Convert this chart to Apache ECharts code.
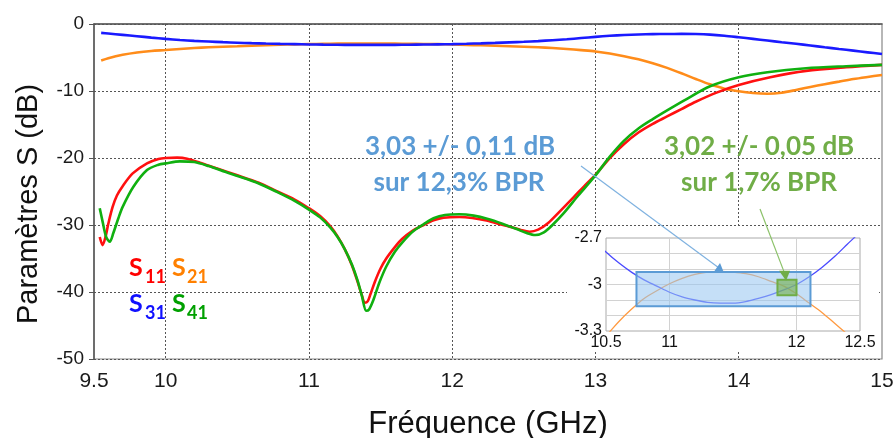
<!DOCTYPE html>
<html>
<head>
<meta charset="utf-8">
<script src="https://cdn.jsdelivr.net/npm/echarts@6/dist/echarts.min.js"></script>
<style>
html, body { margin: 0; background: #fff; }
#mainChart { width: 895px; height: 438px; }
</style>
</head>
<body>
<div id="mainChart"></div>
<script>
// Paramètres S d'un coupleur, 9.5 - 15 GHz

// S11 / S41 (réflexion / isolation)
var freqS11 = [9.54, 9.56, 9.58, 9.60, 9.63, 9.66, 9.70, 9.77, 9.87, 9.95, 10.0, 10.08, 10.15, 10.24, 10.35, 10.49,
    10.65, 10.78, 10.9, 11.0, 11.08, 11.15, 11.2, 11.25, 11.3, 11.34, 11.37, 11.39, 11.41, 11.43, 11.46, 11.5,
    11.54, 11.6, 11.65, 11.72, 11.8, 11.87, 11.94, 12.05, 12.14, 12.23, 12.32, 12.41, 12.48, 12.54, 12.6, 12.67,
    12.75, 12.85, 12.93, 13.0, 13.1, 13.2, 13.3, 13.4, 13.5, 13.6, 13.7, 13.85, 14.0, 14.22, 14.47, 14.75, 15.0];
var valS11 = [-31.8, -33.0, -31.8, -29.8, -27.3, -25.6, -24.2, -22.3, -20.8, -20.15, -20.0, -19.95, -20.1, -20.7, -21.5, -22.5,
    -23.7, -25.0, -26.2, -27.5, -28.7, -30.2, -31.7, -33.6, -36.0, -38.5, -40.5, -41.6, -41.4, -40.3, -38.5, -36.5,
    -35.0, -33.3, -32.1, -30.9, -30.0, -29.3, -28.9, -28.8, -28.95, -29.3, -29.8, -30.3, -30.75, -31.0, -30.7, -29.7,
    -28.0, -25.8, -24.0, -22.5, -20.0, -17.9, -16.2, -14.9, -13.8, -12.7, -11.6, -10.2, -9.1, -7.95, -7.0, -6.45, -6.1];

var freqS41 = [9.54, 9.56, 9.585, 9.61, 9.635, 9.67, 9.70, 9.775, 9.87, 9.95, 10.0, 10.1, 10.2, 10.3, 10.42, 10.49,
    10.65, 10.78, 10.9, 11.0, 11.08, 11.15, 11.2, 11.25, 11.3, 11.34, 11.37, 11.40, 11.42, 11.45, 11.49, 11.54,
    11.6, 11.66, 11.73, 11.8, 11.87, 11.95, 12.05, 12.15, 12.25, 12.35, 12.45, 12.52, 12.58, 12.64, 12.7, 12.78,
    12.88, 13.0, 13.1, 13.2, 13.3, 13.4, 13.5, 13.62, 13.8, 14.0, 14.2, 14.47, 14.75, 15.0];
var valS41 = [-27.5, -29.5, -31.8, -32.5, -31.2, -29.0, -27.3, -24.3, -21.8, -21.0, -20.8, -20.5, -20.6, -21.2, -22.1, -22.6,
    -23.8, -25.1, -26.4, -27.7, -28.9, -30.4, -31.8, -33.6, -35.9, -38.3, -40.6, -42.8, -42.6, -41.2, -38.7, -36.2,
    -34.0, -32.4, -30.9, -29.9, -29.0, -28.5, -28.4, -28.6, -29.1, -29.8, -30.6, -31.2, -31.5, -31.1, -30.0, -28.2,
    -25.6, -22.6, -19.8, -17.4, -15.6, -14.2, -12.9, -11.4, -9.3, -7.95, -7.2, -6.6, -6.3, -6.1];

// S21 / S31 (transmission / couplage)
var freqTx = [9.55, 9.6, 9.7, 9.8, 9.9, 10.0, 10.1, 10.2, 10.3, 10.4, 10.5, 10.6, 10.7, 10.8, 10.9, 11.0, 11.1, 11.2,
    11.3, 11.4, 11.5, 11.6, 11.7, 11.8, 11.9, 12.0, 12.1, 12.2, 12.3, 12.4, 12.5, 12.6, 12.7, 12.8, 12.9, 13.0,
    13.1, 13.2, 13.3, 13.4, 13.5, 13.6, 13.7, 13.8, 13.9, 14.0, 14.1, 14.2, 14.3, 14.4, 14.5, 14.6, 14.7, 14.8,
    14.9, 15.0];
var valS21 = [-5.45, -5.1, -4.6, -4.25, -4.02, -3.88, -3.72, -3.58, -3.47, -3.39, -3.33, -3.24, -3.16, -3.09, -3.04, -2.995, -2.96, -2.935,
    -2.92, -2.915, -2.92, -2.93, -2.95, -2.98, -3.01, -3.06, -3.12, -3.18, -3.25, -3.32, -3.39, -3.48, -3.58, -3.72, -3.9, -4.1,
    -4.4, -4.8, -5.27, -5.85, -6.55, -7.35, -8.2, -9.0, -9.65, -10.05, -10.3, -10.4, -10.25, -9.85, -9.4, -8.98, -8.6, -8.22,
    -7.9, -7.6];
var valS31 = [-1.32, -1.42, -1.62, -1.82, -2.03, -2.22, -2.38, -2.52, -2.62, -2.71, -2.79, -2.86, -2.92, -2.97, -3.01, -3.05, -3.08, -3.10,
    -3.115, -3.12, -3.12, -3.11, -3.09, -3.065, -3.035, -3.0, -2.95, -2.89, -2.82, -2.74, -2.66, -2.55, -2.42, -2.28, -2.1, -1.92,
    -1.76, -1.64, -1.56, -1.51, -1.49, -1.48, -1.5, -1.58, -1.75, -1.98, -2.22, -2.47, -2.72, -2.95, -3.2, -3.47, -3.73, -3.98,
    -4.23, -4.48];

// graduations
var xLabels = [9.5, 10, 11, 12, 13, 14, 15];
var xGrid = [10, 11, 12, 13, 14];
var zoomXLabels = [10.5, 11, 12, 12.5];
var zoomXGrid = [11, 12];
var zoomYLabels = [-3.3, -3, -2.7];
var zoomYGrid = [-3.2, -3.1, -3, -2.9, -2.8];

// bandes d'équilibre (GHz, dB)
var bandWideX = [10.74, 12.11];
var bandWideY = [-3.14, -2.92];
var bandNarrowX = [11.85, 12.0];
var bandNarrowY = [-3.07, -2.97];
var arrowWideTip = [11.39, -2.92];
var arrowNarrowTip = [11.91, -2.97];

function pairs(xs, ys) {
    return xs.map(function (x, i) { return [x, ys[i]]; });
}

var myChart = echarts.init(document.getElementById('mainChart'), null, { renderer: 'canvas' });

var sansFont = 'Liberation Sans, Arial, sans-serif';
var boldFont = 'Lato, Open Sans, sans-serif';
var gridDot = { color: '#555', width: 1, type: [2, 2] };

function mainLine(name, data, color) {
    return {
        name: name, type: 'line', xAxisIndex: 0, yAxisIndex: 0,
        data: data, showSymbol: false, smooth: 0.3, z: 2,
        lineStyle: { color: color, width: 2.6 }
    };
}
function zoomLine(name, data, color) {
    return {
        name: name, type: 'line', xAxisIndex: 1, yAxisIndex: 1,
        data: data, showSymbol: false, smooth: 0.3, z: 6,
        lineStyle: { color: color, width: 1.3 }
    };
}

function txt(x, y, text, color, size, align) {
    return {
        type: 'text', z: 20, silent: true,
        style: {
            x: x, y: y, text: text, fill: color,
            font: 'bold ' + size + 'px ' + boldFont,
            textAlign: align || 'left', textVerticalAlign: 'middle'
        }
    };
}

myChart.setOption({
    animation: false,
    backgroundColor: '#fff',
    grid: [{
        left: 94, top: 24, right: 13, bottom: 79, outerBoundsMode: 'none', containLabel: false,
        show: true, borderColor: '#888', borderWidth: 1.2
    }, {
        left: 606, top: 238, width: 254, height: 93, outerBoundsMode: 'none', containLabel: false,
        show: true, backgroundColor: '#fff', borderColor: '#aaa', borderWidth: 1, z: 4
    }],
    xAxis: [{
        type: 'value', gridIndex: 0, min: 9.5, max: 15,
        name: 'Fréquence (GHz)', nameLocation: 'middle', nameGap: 50,
        nameTextStyle: { fontFamily: sansFont, fontSize: 31, color: '#111' },
        axisLine: { lineStyle: { color: '#555', width: 1.5 } },
        axisTick: { show: false, customValues: xGrid },
        axisLabel: { customValues: xLabels, fontFamily: sansFont, fontSize: 21, color: '#1a1a1a', margin: 12 },
        splitLine: { show: true, lineStyle: gridDot }
    }, {
        type: 'value', gridIndex: 1, min: 10.5, max: 12.5, z: 5,
        axisLine: { show: false },
        axisTick: { show: false, customValues: zoomXGrid },
        axisLabel: { customValues: zoomXLabels, fontFamily: sansFont, fontSize: 16, color: '#111', margin: 4 },
        splitLine: { show: true, lineStyle: { color: '#d2d2d2', width: 1 } }
    }],
    yAxis: [{
        type: 'value', gridIndex: 0, min: -50, max: 0, interval: 10,
        axisLine: { show: true, lineStyle: { color: '#555', width: 1.5 } },
        axisTick: { show: true, length: 5, lineStyle: { color: '#555' } },
        axisLabel: { fontFamily: sansFont, fontSize: 19, color: '#1a1a1a', margin: 10 },
        splitLine: { show: true, lineStyle: gridDot }
    }, {
        type: 'value', gridIndex: 1, min: -3.3, max: -2.7, z: 5,
        axisLine: { show: false },
        axisTick: { show: false, customValues: zoomYGrid },
        axisLabel: {
            customValues: zoomYLabels, fontFamily: sansFont, fontSize: 16, color: '#111', margin: 4,
            formatter: function (v) { return String(Math.round(v * 10) / 10); }
        },
        splitLine: { show: true, lineStyle: { color: '#d2d2d2', width: 1 } }
    }],
    series: [
        mainLine('S21', pairs(freqTx, valS21), '#ff8c1a'),
        mainLine('S31', pairs(freqTx, valS31), '#1a1aff'),
        mainLine('S11', pairs(freqS11, valS11), '#ff1010'),
        mainLine('S41', pairs(freqS41, valS41), '#10b010'),
        zoomLine('S21 zoom', pairs(freqTx, valS21), '#ff9a40'),
        zoomLine('S31 zoom', pairs(freqTx, valS31), '#4a4aff'),
        {
            name: 'bandes', type: 'line', xAxisIndex: 1, yAxisIndex: 1, z: 7, silent: true,
            data: pairs(bandWideX, bandWideY), showSymbol: false,
            lineStyle: { opacity: 0 },
            markArea: {
                silent: true, z: 8, label: { show: false },
                data: [
                    [{ xAxis: bandWideX[0], yAxis: bandWideY[1], itemStyle: { color: 'rgba(150,196,240,0.55)', borderColor: '#5b9bd5', borderWidth: 2 } },
                     { xAxis: bandWideX[1], yAxis: bandWideY[0] }],
                    [{ xAxis: bandNarrowX[0], yAxis: bandNarrowY[1], itemStyle: { color: 'rgba(112,173,71,0.6)', borderColor: '#70ad47', borderWidth: 2 } },
                     { xAxis: bandNarrowX[1], yAxis: bandNarrowY[0] }]
                ]
            }
        }
    ]
});

// annotations
var tipA = myChart.convertToPixel({ gridIndex: 1 }, arrowWideTip);
var tipB = myChart.convertToPixel({ gridIndex: 1 }, arrowNarrowTip);

myChart.setOption({
    graphic: [
        { type: 'rect', z: 3, silent: true, shape: { x: 567, y: 227, width: 312, height: 125 }, style: { fill: '#fff' } },
        // titre de l'axe Y
        {
            type: 'text', z: 20, silent: true, x: 29, y: 204, rotation: Math.PI / 2,
            style: { text: 'Paramètres S (dB)', fill: '#111', font: '29px ' + sansFont, textAlign: 'center', textVerticalAlign: 'middle' }
        },
        // légende S
        txt(129, 268, 'S', '#ff0000', 25), txt(145, 277, '11', '#ff0000', 18),
        txt(172, 268, 'S', '#ff8000', 25), txt(187, 277, '21', '#ff8000', 18),
        txt(129, 304, 'S', '#1010ff', 25), txt(145, 313, '31', '#1010ff', 18),
        txt(172, 304, 'S', '#00a000', 25), txt(187, 313, '41', '#00a000', 18),
        // textes
        txt(460, 147, '3,03 +/- 0,11 dB', '#5b9bd5', 26, 'center'), txt(459, 183, 'sur 12,3% BPR', '#5b9bd5', 26, 'center'),
        txt(759, 147, '3,02 +/- 0,05 dB', '#70ad47', 26, 'center'), txt(759, 183, 'sur 1,7% BPR', '#70ad47', 26, 'center'),
        // flèches
        { type: 'line', z: 9, silent: true, shape: { x1: 581, y1: 166, x2: tipA[0], y2: tipA[1] - 4 }, style: { stroke: '#7fb2e0', lineWidth: 1.2 } },
        { type: 'polygon', z: 9, silent: true, shape: { points: [[tipA[0] - 6, tipA[1] + 1], [tipA[0] + 5, tipA[1] + 1], [tipA[0] + 1, tipA[1] - 9]] }, style: { fill: '#5b9bd5' } },
        { type: 'line', z: 9, silent: true, shape: { x1: 760, y1: 209, x2: tipB[0] - 1, y2: tipB[1] - 8 }, style: { stroke: '#8cc26a', lineWidth: 1.2 } },
        { type: 'polygon', z: 9, silent: true, shape: { points: [[tipB[0] - 6, tipB[1] - 9], [tipB[0] + 5, tipB[1] - 9], [tipB[0] + 1, tipB[1] + 1]] }, style: { fill: '#70ad47' } }
    ]
});
</script>
</body>
</html>
